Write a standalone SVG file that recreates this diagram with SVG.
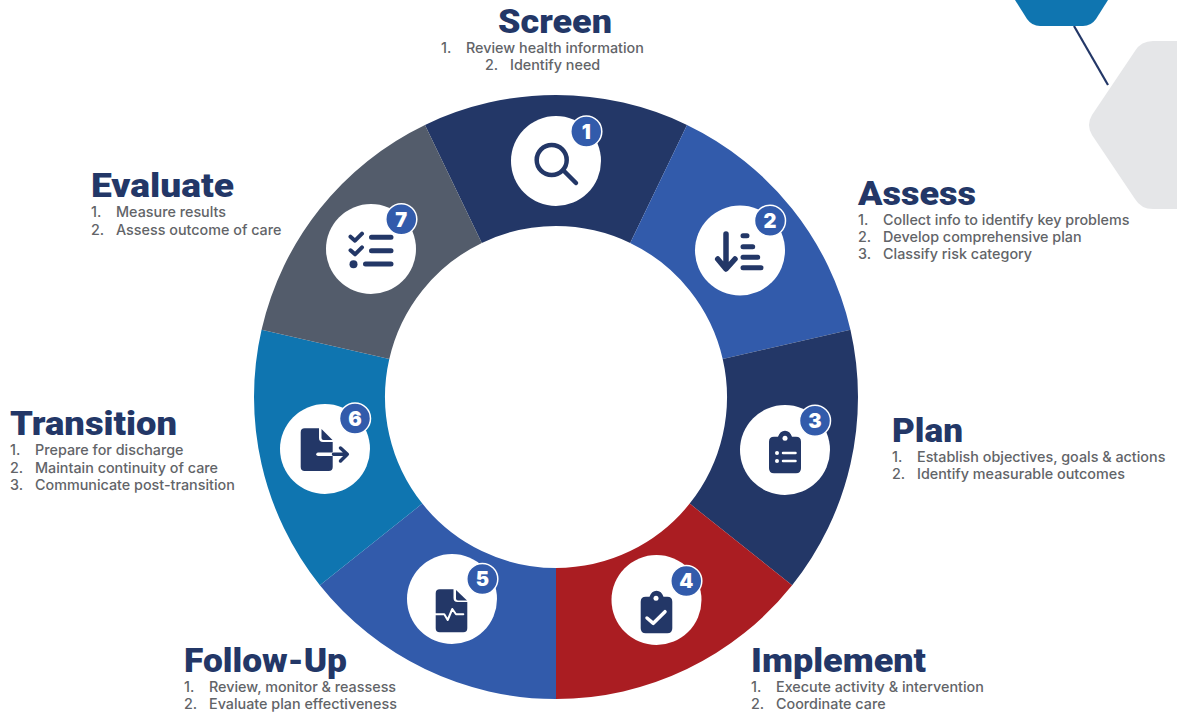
<svg xmlns="http://www.w3.org/2000/svg" width="1177" height="715" viewBox="0 0 1177 715">
<style>
text{font-family:"Inter","Liberation Sans",sans-serif}
.h{font-family:"Roboto","Liberation Sans",sans-serif;font-size:33.5px;font-weight:900;fill:#233767}
.b{font-size:14.35px;font-weight:500;fill:#626468}
.disc{fill:#fff}
.badge{fill:#325bab;stroke:#fff;stroke-width:1.5}
.n{font-size:20px;font-weight:900;fill:#fff;text-anchor:middle}
.ink{fill:none;stroke:#233767;stroke-linecap:round;stroke-linejoin:round}
.wht{fill:none;stroke:#fff;stroke-linecap:round;stroke-linejoin:round}
.solid{fill:#233767}
.white{fill:#fff}
</style>
<rect width="1177" height="715" fill="#fff"/>
<g id="connectors">
<path d="M1074 26L1108 85" fill="none" stroke="#233767" stroke-width="2.2"/>
</g>
<g id="deco">
<path id="hex-blue" d="M1015 0H1108L1096 19Q1091 26 1083 26H1040Q1032 26 1027 19Z" fill="#0f75b0"/>
<path id="hex-gray" d="M1177 41H1153Q1141 41 1135 51L1092 115Q1086 125 1092 135L1135 199Q1141 209 1153 209H1177Z" fill="#e5e6e8"/>
</g>
<g id="node-screen">
<path d="M424.97 124.91A302 302 0 0 1 687.03 124.91L630.19 242.93A171 171 0 0 0 481.81 242.93Z" fill="#233767"/>
<circle class="disc" cx="556" cy="161" r="45"/>
<circle class="ink" cx="551.7" cy="160" r="15" stroke-width="4.5"/>
<path class="ink" d="M564 171L576 183" stroke-width="4.5"/>
<circle class="badge" cx="586.3" cy="131.5" r="15.5"/>
<text class="n" x="586.3" y="138.8">1</text>
<text class="h" x="498" y="33" textLength="114" lengthAdjust="spacingAndGlyphs">Screen</text>
<text class="b" x="441" y="53">1.</text><text class="b" x="466" y="53">Review health information</text>
<text class="b" x="485" y="70">2.</text><text class="b" x="510" y="70">Identify need</text>
</g>
<g id="node-assess">
<path d="M687.03 124.91A302 302 0 0 1 850.43 329.8L722.71 358.95A171 171 0 0 0 630.19 242.93Z" fill="#325bab"/>
<circle class="disc" cx="740" cy="250.5" r="45"/>
<path class="ink" d="M726 234V268M717.7 259L726 269L735 259" stroke-width="5.5"/>
<path class="ink" d="M743 235.7H747M743 246.7H752.7M743 257.3H757.7M743 267.7H761" stroke-width="5"/>
<circle class="badge" cx="770" cy="220.7" r="15.5"/>
<text class="n" x="770" y="228">2</text>
<text class="h" x="858" y="205" textLength="118" lengthAdjust="spacingAndGlyphs">Assess</text>
<text class="b" x="858" y="225">1.</text><text class="b" x="883" y="225">Collect info to identify key problems</text>
<text class="b" x="858" y="242">2.</text><text class="b" x="883" y="242">Develop comprehensive plan</text>
<text class="b" x="858" y="259">3.</text><text class="b" x="883" y="259">Classify risk category</text>
</g>
<g id="node-plan">
<path d="M850.43 329.8A302 302 0 0 1 792.11 585.29L689.69 503.62A171 171 0 0 0 722.71 358.95Z" fill="#233767"/>
<circle class="disc" cx="785" cy="450" r="45"/>
<path class="solid" d="M774 436.7H778Q780 430.7 785 430.7Q790 430.7 792 436.7H796Q801 436.7 801 441.7V468.3Q801 473.3 796 473.3H774Q769 473.3 769 468.3V441.7Q769 436.7 774 436.7Z"/>
<circle class="white" cx="785" cy="438.3" r="2.5"/>
<circle class="white" cx="777" cy="453" r="2"/><circle class="white" cx="777" cy="461" r="2"/>
<path class="wht" d="M783 453H795.5M783 461H795.5" stroke-width="2.5"/>
<circle class="badge" cx="815" cy="420.7" r="15.5"/>
<text class="n" x="815" y="428">3</text>
<text class="h" x="892" y="442" textLength="71" lengthAdjust="spacingAndGlyphs">Plan</text>
<text class="b" x="892" y="462">1.</text><text class="b" x="917" y="462">Establish objectives, goals &amp; actions</text>
<text class="b" x="892" y="479">2.</text><text class="b" x="917" y="479">Identify measurable outcomes</text>
</g>
<g id="node-implement">
<path d="M792.11 585.29A302 302 0 0 1 556 699V568A171 171 0 0 0 689.69 503.62Z" fill="#aa1d22"/>
<circle class="disc" cx="656.5" cy="600" r="45"/>
<path class="solid" d="M645.7 596.7H649.5Q651.5 590.7 656.5 590.7Q661.5 590.7 663.5 596.7H667.3Q672.3 596.7 672.3 601.7V628.3Q672.3 633.3 667.3 633.3H645.7Q640.7 633.3 640.7 628.3V601.7Q640.7 596.7 645.7 596.7Z"/>
<circle class="white" cx="656" cy="598.3" r="2.5"/>
<path class="wht" d="M647 618L653.3 623.3L665 611.7" stroke-width="3.5"/>
<circle class="badge" cx="686.3" cy="581" r="15.5"/>
<text class="n" x="686.3" y="588.3">4</text>
<text class="h" x="751" y="672" textLength="175" lengthAdjust="spacingAndGlyphs">Implement</text>
<text class="b" x="751" y="692">1.</text><text class="b" x="776" y="692">Execute activity &amp; intervention</text>
<text class="b" x="751" y="709">2.</text><text class="b" x="776" y="709">Coordinate care</text>
</g>
<g id="node-follow-up">
<path d="M556 699A302 302 0 0 1 319.89 585.29L422.31 503.62A171 171 0 0 0 556 568Z" fill="#325bab"/>
<circle class="disc" cx="452" cy="599" r="45"/>
<path class="solid" d="M439.7 589.3H453.5V598Q453.5 602 457.5 602H467.3V628.3Q467.3 632.3 463.3 632.3H439.7Q435.7 632.3 435.7 628.3V593.3Q435.7 589.3 439.7 589.3Z"/>
<path class="solid" d="M456 590L467 600.5H458Q456 600.5 456 598.5Z"/>
<path class="wht" d="M434 614.3H444.3L447.7 620L452.3 609L456 614.3H463.3" stroke-width="2"/>
<circle class="badge" cx="482.3" cy="579" r="15.5"/>
<text class="n" x="482.3" y="586.3">5</text>
<text class="h" x="184" y="672" textLength="163" lengthAdjust="spacingAndGlyphs">Follow-Up</text>
<text class="b" x="184" y="692">1.</text><text class="b" x="209" y="692">Review, monitor &amp; reassess</text>
<text class="b" x="184" y="709">2.</text><text class="b" x="209" y="709">Evaluate plan effectiveness</text>
</g>
<g id="node-transition">
<path d="M319.89 585.29A302 302 0 0 1 261.57 329.8L389.29 358.95A171 171 0 0 0 422.31 503.62Z" fill="#0f75b0"/>
<circle class="disc" cx="325" cy="449" r="45"/>
<path class="solid" d="M304.7 428.3H319V438Q319 442 323 442H332.7V467Q332.7 471 328.7 471H304.7Q300.7 471 300.7 467V432.3Q300.7 428.3 304.7 428.3Z"/>
<path class="solid" d="M321.5 429L332.5 440H323.5Q321.5 440 321.5 438Z"/>
<path class="wht" d="M318 454.3H332.7" stroke-width="3.5"/>
<path class="ink" d="M333.5 454.3H347.3M340.5 448L347.3 454.3L340.5 461" stroke-width="3.5"/>
<circle class="badge" cx="355" cy="418.5" r="15.5"/>
<text class="n" x="355" y="425.8">6</text>
<text class="h" x="10" y="435" textLength="167" lengthAdjust="spacingAndGlyphs">Transition</text>
<text class="b" x="10" y="455">1.</text><text class="b" x="35" y="455">Prepare for discharge</text>
<text class="b" x="10" y="473">2.</text><text class="b" x="35" y="473">Maintain continuity of care</text>
<text class="b" x="10" y="490">3.</text><text class="b" x="35" y="490">Communicate post-transition</text>
</g>
<g id="node-evaluate">
<path d="M261.57 329.8A302 302 0 0 1 424.97 124.91L481.81 242.93A171 171 0 0 0 389.29 358.95Z" fill="#535c6b"/>
<circle class="disc" cx="371" cy="249" r="45"/>
<path class="ink" d="M350.5 236.7L355 240.7L362 233.7M350.5 250.3L355 254.3L362 247.3" stroke-width="4"/>
<circle class="solid" cx="353.5" cy="264.3" r="4"/>
<path class="ink" d="M371.5 237.3H391M371.5 250.7H391M365.5 264H391" stroke-width="5"/>
<circle class="badge" cx="401.3" cy="219.3" r="15.5"/>
<text class="n" x="401.3" y="226.6">7</text>
<text class="h" x="91" y="197" textLength="143" lengthAdjust="spacingAndGlyphs">Evaluate</text>
<text class="b" x="91" y="217">1.</text><text class="b" x="116" y="217">Measure results</text>
<text class="b" x="91" y="235">2.</text><text class="b" x="116" y="235">Assess outcome of care</text>
</g>
</svg>
